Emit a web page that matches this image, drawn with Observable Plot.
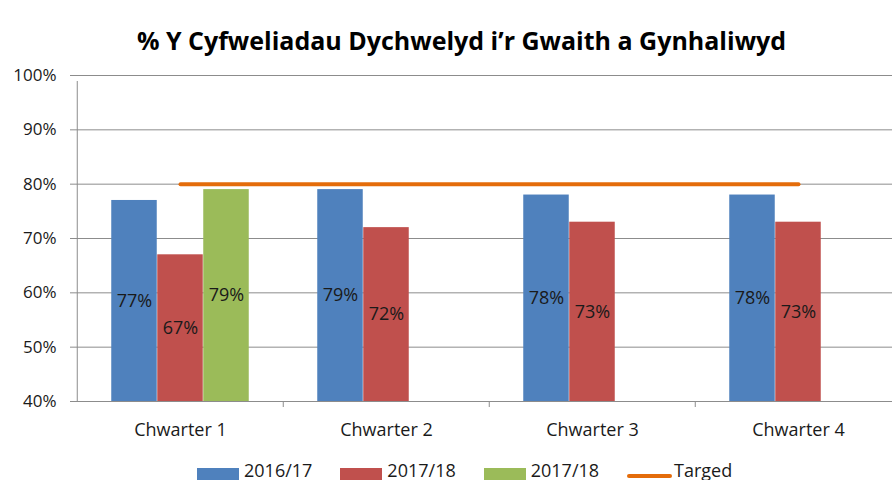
<!DOCTYPE html>
<html><head><meta charset="utf-8">
<script src="https://cdn.jsdelivr.net/npm/d3@7"></script>
<script src="https://cdn.jsdelivr.net/npm/@observablehq/plot@0.6"></script>
<style>
body{margin:0;background:#fff;overflow:hidden;}
#wrap{position:relative;width:892px;height:480px;overflow:hidden;}
#legend{position:absolute;left:197px;top:460px;display:flex;align-items:flex-start;font-family:"Open Sans",sans-serif;font-size:18px;line-height:20px;color:#1a1a1a;white-space:nowrap;}
.item{display:flex;align-items:flex-start;margin-right:28px;}
.sw{width:42px;height:12px;margin-top:8px;margin-right:5px;}
.ln{width:45px;height:4px;border-radius:2px;margin-top:14px;margin-right:2px;}
</style></head><body>
<div id="wrap"><div id="chart"></div><div id="legend"></div></div>
<script>
const title = "% Y Cyfweliadau Dychwelyd i’r Gwaith a Gynhaliwyd";
const quarters = ["Chwarter 1","Chwarter 2","Chwarter 3","Chwarter 4"];
const series2016 = [0.77,0.79,0.78,0.78];
const series2017 = [0.67,0.72,0.73,0.73];
const series2017b = [0.79,null,null,null];
const target = [0.80,0.80,0.80,0.80];
const yTicks = [0.4,0.5,0.6,0.7,0.8,0.9,1.0];
const seriesNames = ["2016/17","2017/18","2017/18","Targed"];
const colors = ["#4F81BD","#C0504D","#9BBB59","#E46C0A"];

const rows = quarters.map((q,i)=>({q, a:series2016[i], b:series2017[i], c:series2017b[i], t:target[i]}));
const base = yTicks[0];
const bw = 206.5, barW = 46, ins = (bw-barW)/2;
const grid = "#8c8c8c";
const pct = v => Math.round(v*100)+"%";
const font = "'Open Sans', sans-serif";

function bars(key, color, off){
  return Plot.barY(rows.filter(d=>d[key]!=null), {x:"q", y1:()=>base, y2:key, fill:color, dx:off, insetLeft:ins, insetRight:ins});
}
function labels(key, off){
  return Plot.text(rows.filter(d=>d[key]!=null), {x:"q", y:d=>(d[key]+base)/2, text:d=>pct(d[key]), dx:off, fontSize:18, fill:"#1a1a1a", fontFamily:font});
}

const chart = Plot.plot({
  width:892, height:466,
  marginLeft:76, marginRight:0, marginTop:75, marginBottom:65,
  style:{background:"#fff", fontFamily:font},
  x:{domain:quarters, range:[76,902], padding:0},
  y:{domain:[yTicks[0], yTicks[yTicks.length-1]]},
  marks:[
    Plot.ruleY(yTicks.slice(1), {stroke:grid, strokeWidth:1}),
    bars("a", colors[0], -barW),
    bars("b", colors[1], 0),
    bars("c", colors[2], barW),
    Plot.ruleY([base], {stroke:grid, strokeWidth:1}),
    Plot.ruleX(quarters, {x:d=>d, dx:-bw/2, y1:()=>base, y2:d=>d===quarters[0]?yTicks[yTicks.length-1]:base, insetBottom:-6, stroke:grid, strokeWidth:1}),
    Plot.line(rows, {x:"q", y:"t", stroke:colors[3], strokeWidth:4, strokeLinecap:"round"}),
    labels("a", -barW), labels("b", 0), labels("c", barW),
    Plot.axisY({ticks:yTicks, tickFormat:pct, tickSize:6, tickPadding:14, stroke:grid, fontSize:17, fill:"#1a1a1a", label:null}),
    Plot.axisX({tickSize:0, tickPadding:22, fontSize:18, fill:"#1a1a1a", label:null}),
    Plot.text([title], {frameAnchor:"top", dy:-43, dx:-23, fontSize:25, fontWeight:"bold", fontFamily:"'Open Sans', sans-serif", fill:"#000"})
  ]
});
document.getElementById("chart").appendChild(chart);

const leg = document.getElementById("legend");
seriesNames.forEach((n,i)=>{
  const it = document.createElement("div"); it.className="item";
  const s = document.createElement("div"); s.className = i===3 ? "ln" : "sw"; s.style.background = colors[i];
  const t = document.createElement("span"); t.textContent = n;
  it.appendChild(s); it.appendChild(t); leg.appendChild(it);
});
</script></body></html>
